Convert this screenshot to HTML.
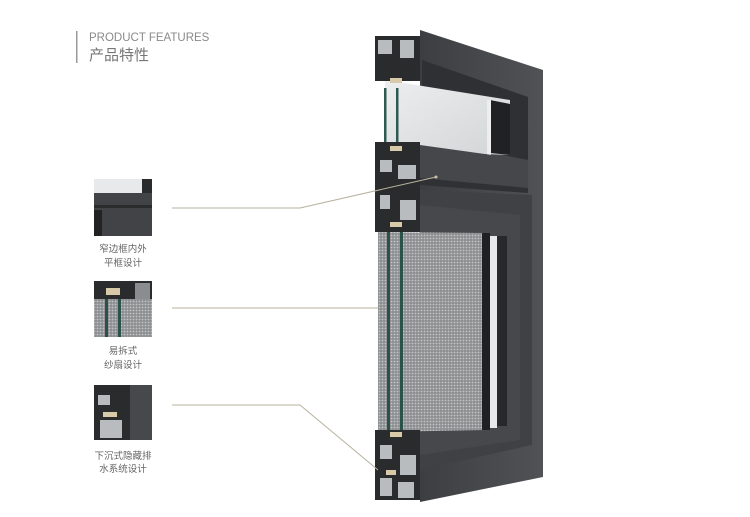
<!DOCTYPE html>
<html><head><meta charset="utf-8"><style>
html,body{margin:0;padding:0;background:#fff;}
body{width:750px;height:512px;overflow:hidden;}
text{font-family:"Liberation Sans","Noto Sans CJK SC",sans-serif;}
</style></head><body>
<svg width="750" height="512" viewBox="0 0 750 512" xmlns="http://www.w3.org/2000/svg">
<defs>
<pattern id="mesh" width="3" height="3" patternUnits="userSpaceOnUse">
<rect width="3" height="3" fill="#8c8e90"/><circle cx="1.5" cy="1.5" r="0.9" fill="#c2c4c5"/>
</pattern>
<linearGradient id="frame" x1="0" y1="0" x2="1" y2="0">
<stop offset="0" stop-color="#3c3e41"/><stop offset="1" stop-color="#505256"/>
</linearGradient>
<linearGradient id="glass" x1="0" y1="0" x2="1" y2="1">
<stop offset="0" stop-color="#eceeef"/><stop offset="1" stop-color="#d2d5d6"/>
</linearGradient>
</defs>
<rect x="76" y="31" width="1.5" height="32" fill="#9a9a9a"/>
<text x="89" y="41" font-size="11.5" fill="#8a8a8a">PRODUCT FEATURES</text>
<text x="89" y="60" font-size="15" fill="#777">产品特性</text>

<polygon points="420,30 543,70 543,477 420,502" fill="url(#frame)"/>
<polygon points="422,60 528,97 528,160 422,140" fill="#2e3033"/>
<polygon points="385,80 510,100 510,155 385,150" fill="url(#glass)"/>
<polygon points="490,100 510,104 510,155 490,153" fill="#1f2124"/>
<rect x="487" y="100" width="4" height="55" fill="#eee"/>
<polygon points="420,145 528,160 528,188 420,178" fill="#45474b"/>
<polygon points="420,178 528,188 528,193 420,185" fill="#2f3134"/>
<polygon points="420,190 532,195 532,445 420,470" fill="#3f4145"/>
<polygon points="420,205 520,215 520,440 420,455" fill="#46484c"/>
<polygon points="378,232 485,233 485,430 378,432" fill="url(#mesh)"/>
<rect x="482" y="233" width="8" height="197" fill="#1e2023"/>
<rect x="490" y="236" width="7" height="192" fill="#e6e8ea"/>
<rect x="497" y="236" width="10" height="190" fill="#26282b"/>
<rect x="384" y="88" width="2.5" height="60" fill="#2f5a52"/>
<rect x="396" y="88" width="2.5" height="60" fill="#2f5a52"/>
<rect x="387" y="232" width="3" height="198" fill="#2a5249"/>
<rect x="400" y="232" width="3" height="198" fill="#2a5249"/>
<g fill="#2a2b2d">
<rect x="375" y="36" width="45" height="45"/>
<rect x="375" y="142" width="45" height="90"/>
<rect x="375" y="430" width="45" height="70"/>
</g>
<g fill="#b9bcbf">
<rect x="378" y="40" width="14" height="14"/><rect x="400" y="40" width="14" height="18"/>
<rect x="380" y="160" width="12" height="12"/><rect x="398" y="165" width="18" height="14"/>
<rect x="380" y="195" width="10" height="14"/><rect x="400" y="200" width="16" height="20"/>
<rect x="380" y="445" width="12" height="14"/><rect x="400" y="455" width="16" height="20"/>
<rect x="380" y="478" width="12" height="18"/><rect x="398" y="482" width="16" height="16"/>
</g>
<g fill="#d8c9a8">
<rect x="390" y="78" width="12" height="5"/><rect x="390" y="146" width="12" height="5"/>
<rect x="390" y="222" width="12" height="5"/><rect x="390" y="432" width="12" height="5"/>
<rect x="386" y="470" width="10" height="5"/>
</g>
<g stroke="#b7b29e" stroke-width="1" fill="none">
<line x1="172" y1="208" x2="300" y2="208"/><line x1="300" y1="208" x2="436" y2="177"/>
<line x1="172" y1="308" x2="378" y2="308"/>
<line x1="172" y1="405" x2="300" y2="405"/><line x1="300" y1="405" x2="378" y2="470"/>
</g>
<circle cx="436" cy="177" r="1.5" fill="#c9c3a8"/>

<rect x="94" y="179" width="58" height="57" fill="#414347"/>
<rect x="94" y="179" width="48" height="14" fill="#e8e9ea"/>
<rect x="142" y="179" width="10" height="14" fill="#2a2b2d"/>
<rect x="94" y="205" width="58" height="3" fill="#2a2b2d"/>
<rect x="94" y="210" width="8" height="26" fill="#222"/>
<text x="123" y="252" font-size="9.5" fill="#666" text-anchor="middle">窄边框内外</text>
<text x="123" y="266" font-size="9.5" fill="#666" text-anchor="middle">平框设计</text>

<rect x="94" y="281" width="58" height="56" fill="url(#mesh)"/>
<rect x="94" y="281" width="58" height="18" fill="#2a2b2d"/>
<rect x="106" y="288" width="14" height="7" fill="#d8c9a8"/>
<rect x="135" y="283" width="15" height="16" fill="#8a8c8f"/>
<rect x="105" y="299" width="3" height="38" fill="#2a5249"/>
<rect x="118" y="299" width="3" height="38" fill="#2a5249"/>
<text x="123" y="354" font-size="9.5" fill="#666" text-anchor="middle">易拆式</text>
<text x="123" y="368" font-size="9.5" fill="#666" text-anchor="middle">纱扇设计</text>

<rect x="94" y="385" width="58" height="55" fill="#2a2b2d"/>
<rect x="130" y="385" width="22" height="55" fill="#46484c"/>
<rect x="98" y="395" width="12" height="10" fill="#b9bcbf"/>
<rect x="100" y="420" width="22" height="18" fill="#b9bcbf"/>
<rect x="103" y="412" width="14" height="5" fill="#d8c9a8"/>
<text x="123" y="459" font-size="9.5" fill="#666" text-anchor="middle">下沉式隐藏排</text>
<text x="123" y="472" font-size="9.5" fill="#666" text-anchor="middle">水系统设计</text>
</svg>
</body></html>
